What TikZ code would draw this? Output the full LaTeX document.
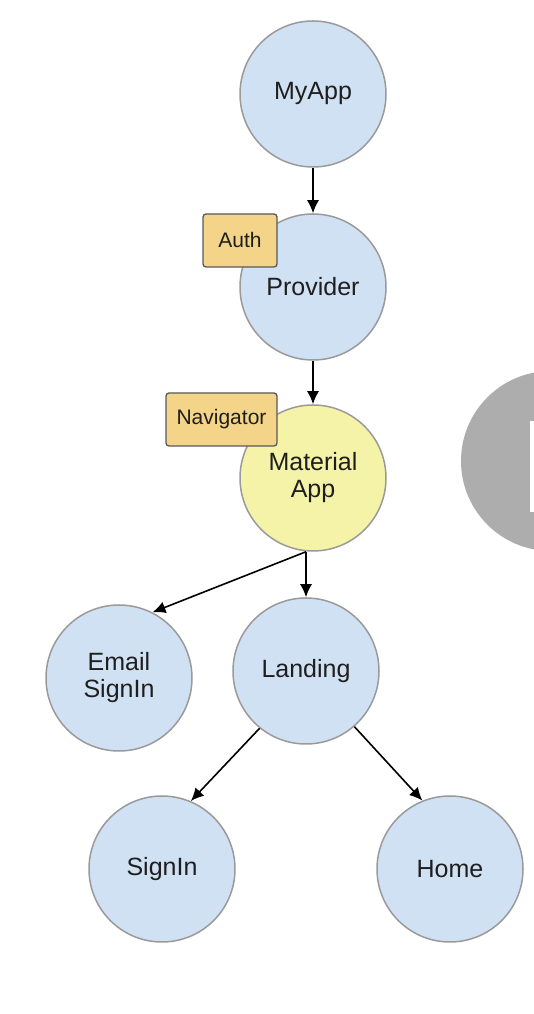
\documentclass[tikz,border=0pt]{standalone}
\usepackage{fontspec}
\setmainfont{Liberation Sans}
\usetikzlibrary{arrows.meta}
\definecolor{kreisblau}{HTML}{D1E1F4}
\definecolor{kreisgelb}{HTML}{F5F3A8}
\definecolor{kastengelb}{HTML}{F3D489}
\definecolor{randgrau}{HTML}{9A9A9A}
\definecolor{textgrau}{HTML}{1E1E1E}
\tikzset{
  kreis/.style={circle,draw=randgrau,line width=1.5pt,fill=kreisblau,
    minimum size=146pt,inner sep=0pt,align=center,text=textgrau,
    font=\fontsize{25}{27}\selectfont},
  kasten/.style={draw=black!65,line width=1.3pt,fill=kastengelb,rounded corners=3pt,
    minimum height=53pt,inner sep=0pt,text=textgrau,font=\fontsize{21}{24}\selectfont},
  pfeil/.style={-{Latex[length=13pt,width=12pt]},line width=1.6pt}
}
\begin{document}
\begin{tikzpicture}[x=1pt,y=1pt]
\clip (0,0) rectangle (534,1014);
\fill[white] (0,0) rectangle (534,1014);
% Knoten (Kreise)
\node[kreis] (MyApp)    at (313,920) {MyApp};
\node[kreis] (Provider) at (313,727) {Provider};
\node[kreis,fill=kreisgelb] (Material) at (313,536) {Material\\App};
\node[kreis] (Email)    at (119,336) {Email\\SignIn};
\node[kreis] (Landing)  at (306,343) {Landing};
\node[kreis] (SignIn)   at (162,145) {SignIn};
\node[kreis] (Home)     at (450,145) {Home};
% Kaesten
\node[kasten,minimum width=74pt]  (Auth)      at (240,773.5) {Auth};
\node[kasten,minimum width=111pt] (Navigator) at (221.5,594.5) {Navigator};
% Pfeile
\draw[pfeil] (MyApp) -- (Provider);
\draw[pfeil] (Provider) -- (Material);
\draw[pfeil] (Landing |- Material.south) -- (Landing.north);
\draw[pfeil] (Landing |- Material.south) -- (Email.63);
\draw[pfeil] (Landing.231) -- (SignIn.67);
\draw[pfeil] (Landing.-49) -- (Home.112);
% grauer Kreis am rechten Rand
\fill[black!32] (551,553) circle (90);
\fill[white] (530,502) rectangle (540,593);
\end{tikzpicture}
\end{document}
